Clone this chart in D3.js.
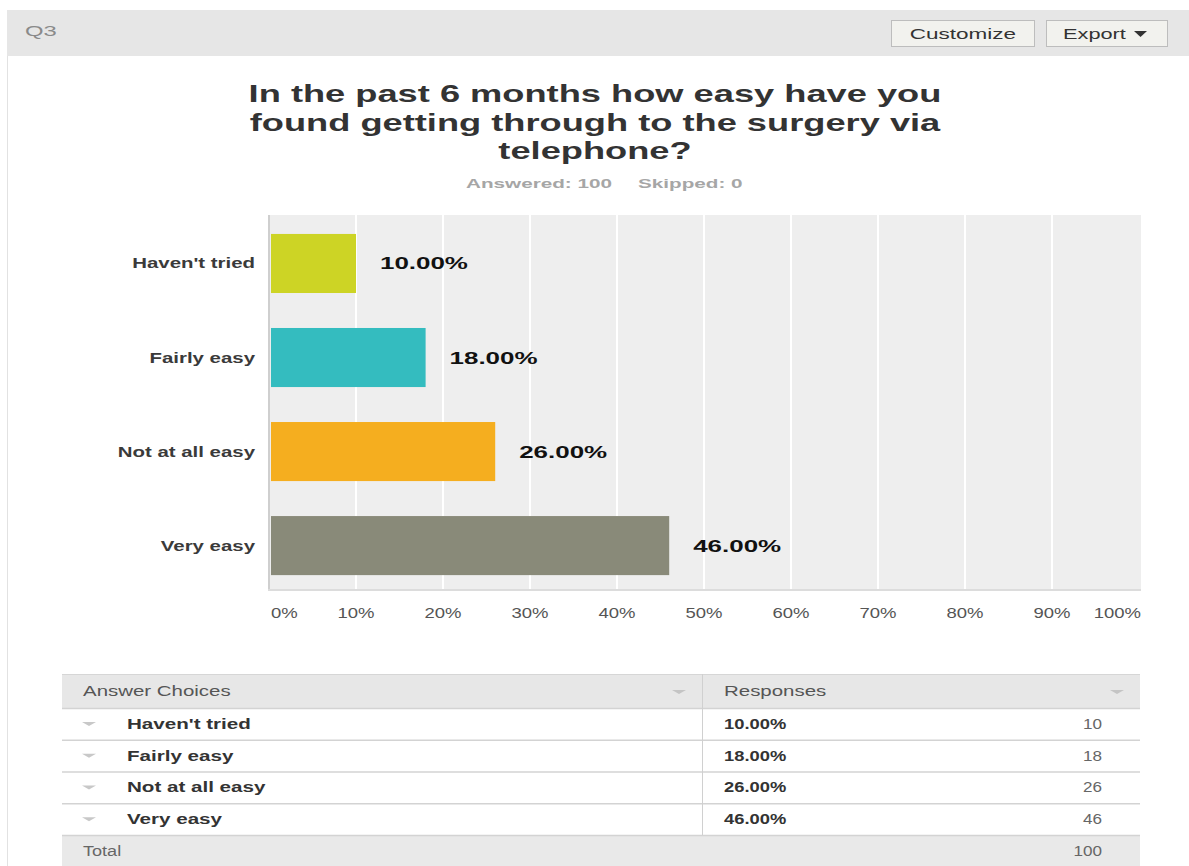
<!DOCTYPE html>
<html>
<head>
<meta charset="utf-8">
<script src="https://cdn.jsdelivr.net/npm/d3@7"></script>
<style>
  html, body { margin: 0; padding: 0; background: #fff; }
  svg { display: block; font-family: "Liberation Sans", Arial, sans-serif; }
</style>
</head>
<body>
<svg id="chart" width="1189" height="866"></svg>
<script>
// Survey question Q3 results
const questionId = "Q3";
const titleLines = ["In the past 6 months how easy have you", "found getting through to the surgery via", "telephone?"];
const categories = ["Haven't tried", "Fairly easy", "Not at all easy", "Very easy"];
const percents = [10, 18, 26, 46];
const counts = [10, 18, 26, 46];
const answered = 100;
const skipped = 0;
const xTicks = [0, 10, 20, 30, 40, 50, 60, 70, 80, 90, 100];

const svg = d3.select("#chart");
const pct = v => d3.format(".2f")(v) + "%";

// widen glyphs horizontally by factor k (the survey page renders wide type)
function widen(sel, k) {
  sel.each(function () {
    const len = this.getComputedTextLength();
    if (len > 0) {
      d3.select(this).attr("textLength", len * k).attr("lengthAdjust", "spacingAndGlyphs");
    }
  });
  return sel;
}

// ---- page frame ----
svg.append("rect").attr("x", 0).attr("y", 0).attr("width", 1189).attr("height", 866).attr("fill", "#fff");
svg.append("rect").attr("x", 7).attr("y", 10).attr("width", 1182).attr("height", 46).attr("fill", "#e6e6e6");
svg.append("line").attr("x1", 7.5).attr("x2", 7.5).attr("y1", 56).attr("y2", 866).attr("stroke", "#e2e2e2");

widen(svg.append("text").attr("x", 25).attr("y", 36).attr("font-size", 14).attr("fill", "#8a8a8a").text(questionId), 1.7);

// buttons
const btn = svg.append("g");
btn.append("rect").attr("x", 891.5).attr("y", 20.5).attr("width", 143).attr("height", 26)
  .attr("fill", "#f2f2ee").attr("stroke", "#bdbdbd");
widen(btn.append("text").attr("x", 963).attr("y", 39).attr("text-anchor", "middle")
  .attr("font-size", 15).attr("fill", "#333").text("Customize"), 1.5);
btn.append("rect").attr("x", 1046.5).attr("y", 20.5).attr("width", 121).attr("height", 26)
  .attr("fill", "#f2f2ee").attr("stroke", "#bdbdbd");
widen(btn.append("text").attr("x", 1063).attr("y", 39)
  .attr("font-size", 15).attr("fill", "#333").text("Export"), 1.45);
btn.append("path").attr("d", "M1134,31L1147,31L1140.5,37Z").attr("fill", "#333");

// ---- title ----
const title = svg.append("g");
titleLines.forEach((t, i) => {
  widen(title.append("text").attr("x", 595).attr("y", 102 + i * 28.5).attr("text-anchor", "middle")
    .attr("font-size", 24).attr("font-weight", "bold").attr("fill", "#333").text(t), 1.51);
});
widen(svg.append("text").attr("x", 612).attr("y", 188).attr("text-anchor", "end")
  .attr("font-size", 13).attr("font-weight", "bold").attr("fill", "#a6a6a6").text("Answered: " + answered), 1.59);
widen(svg.append("text").attr("x", 638).attr("y", 188)
  .attr("font-size", 13).attr("font-weight", "bold").attr("fill", "#a6a6a6").text("Skipped: " + skipped), 1.59);

// ---- bar chart ----
const plot = { left: 268, right: 1141, top: 215, bottom: 590 };
const x = d3.scaleLinear().domain([0, 100]).range([269, 1139]);
const y = d3.scaleBand().domain(categories).range([plot.top, plot.bottom])
  .paddingInner(0.372).paddingOuter(0.18).align(0.56);
const color = d3.scaleOrdinal().domain(categories).range(["#cdd425", "#34bcbf", "#f5ae1f", "#898a79"]);

svg.append("rect").attr("x", plot.left).attr("y", plot.top)
  .attr("width", plot.right - plot.left).attr("height", plot.bottom - plot.top).attr("fill", "#eeeeee");

// vertical gridlines
svg.append("g").selectAll("line").data(xTicks.slice(1, -1)).join("line")
  .attr("x1", d => x(d)).attr("x2", d => x(d))
  .attr("y1", plot.top).attr("y2", plot.bottom)
  .attr("stroke", "#fff").attr("stroke-width", 2);

// bars
svg.append("g").selectAll("rect").data(categories).join("rect")
  .attr("x", x(0) + 2)
  .attr("y", d => y(d))
  .attr("width", (d, i) => x(percents[i]) - x(0) - 2)
  .attr("height", y.bandwidth())
  .attr("fill", d => color(d));

// axis lines
svg.append("line").attr("x1", plot.left + 1).attr("x2", plot.left + 1)
  .attr("y1", plot.top).attr("y2", plot.bottom + 1).attr("stroke", "#cfcfcf").attr("stroke-width", 2);
svg.append("line").attr("x1", plot.left).attr("x2", plot.right)
  .attr("y1", plot.bottom).attr("y2", plot.bottom).attr("stroke", "#dcdcdc").attr("stroke-width", 2);

// value labels
svg.append("g").selectAll("text").data(categories).join("text")
  .attr("x", (d, i) => x(percents[i]) + 24)
  .attr("y", d => y(d) + y.bandwidth() / 2 + 6)
  .attr("font-size", 16).attr("font-weight", "bold").attr("fill", "#111")
  .text((d, i) => pct(percents[i]))
  .call(widen, 1.62);

// category labels
svg.append("g").selectAll("text").data(categories).join("text")
  .attr("x", 255)
  .attr("y", d => y(d) + y.bandwidth() / 2 + 5)
  .attr("text-anchor", "end")
  .attr("font-size", 15).attr("font-weight", "bold").attr("fill", "#3a3a3a")
  .text(d => d)
  .call(widen, 1.36);

// tick labels
svg.append("g").selectAll("text").data(xTicks).join("text")
  .attr("x", d => d === 0 ? x(d) + 2 : d === 100 ? x(d) + 2 : x(d))
  .attr("y", 618)
  .attr("text-anchor", d => d === 0 ? "start" : d === 100 ? "end" : "middle")
  .attr("font-size", 14).attr("fill", "#555")
  .text(d => d + "%")
  .call(widen, 1.32);

// ---- responses table ----
const tbl = { left: 62, right: 1140, mid: 702, top: 674, head: 34, row: 31.75 };
const rowY = i => tbl.top + tbl.head + i * tbl.row;
const totalY = rowY(categories.length);
const bottom = totalY + tbl.row;

svg.append("rect").attr("x", tbl.left).attr("y", tbl.top).attr("width", tbl.right - tbl.left)
  .attr("height", tbl.head).attr("fill", "#e7e7e7");
svg.append("rect").attr("x", tbl.left).attr("y", totalY).attr("width", tbl.right - tbl.left)
  .attr("height", bottom - totalY).attr("fill", "#e9e9e9");
svg.append("line").attr("x1", tbl.left).attr("x2", tbl.right).attr("y1", tbl.top + 0.5).attr("y2", tbl.top + 0.5)
  .attr("stroke", "#d6d6d6");

// row separators
svg.append("g").selectAll("line").data(d3.range(categories.length + 1)).join("line")
  .attr("x1", tbl.left).attr("x2", tbl.right)
  .attr("y1", i => rowY(i) + 0.5).attr("y2", i => rowY(i) + 0.5)
  .attr("stroke", "#d3d3d3").attr("stroke-width", 1.5);

// column divider
svg.append("line").attr("x1", tbl.mid + 0.5).attr("x2", tbl.mid + 0.5)
  .attr("y1", tbl.top).attr("y2", totalY).attr("stroke", "#d0d0d0");

// header
widen(svg.append("text").attr("x", 83).attr("y", 696).attr("font-size", 14).attr("fill", "#555").text("Answer Choices"), 1.46);
widen(svg.append("text").attr("x", 724).attr("y", 696).attr("font-size", 14).attr("fill", "#555").text("Responses"), 1.46);
const tri = (cx, cy, c) => svg.append("path")
  .attr("d", `M${cx - 7},${cy - 2}L${cx + 7},${cy - 2}L${cx},${cy + 2}Z`).attr("fill", c);
tri(679, 692, "#c4c4c4");
tri(1117, 692, "#c4c4c4");

// rows
const rows = svg.append("g").selectAll("g").data(categories).join("g");
rows.each((d, i) => tri(89, rowY(i) + tbl.row / 2, "#c8c8c8"));
rows.append("text")
  .attr("x", 127).attr("y", (d, i) => rowY(i) + tbl.row / 2 + 5)
  .attr("font-size", 14).attr("font-weight", "bold").attr("fill", "#333")
  .text(d => d).call(widen, 1.47);
rows.append("text")
  .attr("x", 724).attr("y", (d, i) => rowY(i) + tbl.row / 2 + 5)
  .attr("font-size", 14).attr("font-weight", "bold").attr("fill", "#333")
  .text((d, i) => pct(percents[i])).call(widen, 1.31);
rows.append("text")
  .attr("x", 1102).attr("y", (d, i) => rowY(i) + tbl.row / 2 + 5).attr("text-anchor", "end")
  .attr("font-size", 14).attr("fill", "#666")
  .text((d, i) => counts[i]).call(widen, 1.22);

// total
widen(svg.append("text").attr("x", 83).attr("y", totalY + tbl.row / 2 + 5)
  .attr("font-size", 14).attr("fill", "#666").text("Total"), 1.29);
widen(svg.append("text").attr("x", 1102).attr("y", totalY + tbl.row / 2 + 5).attr("text-anchor", "end")
  .attr("font-size", 14).attr("fill", "#666").text(d3.sum(counts)), 1.22);
</script>
</body>
</html>
